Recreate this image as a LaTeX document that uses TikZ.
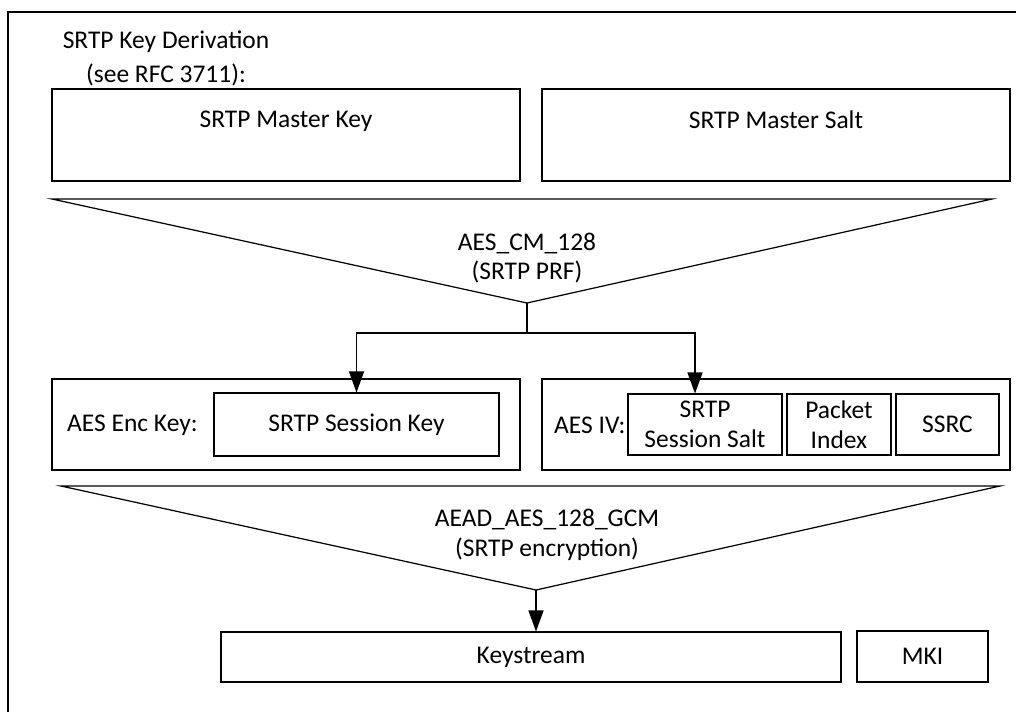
\documentclass[tikz,border=0pt]{standalone}
\usepackage{fontspec}
\setmainfont{Carlito}
\usetikzlibrary{arrows.meta}

\tikzset{
  box/.style={rectangle, draw, line width=0.6pt, inner sep=0pt, align=center},
  keybox/.style={box, minimum width=9.36cm, minimum height=1.84cm, text depth=0.62cm},
  groupbox/.style={box, minimum width=9.36cm, minimum height=1.82cm},
  partbox/.style={box, minimum height=1.22cm},
  arrow/.style={-{Triangle[length=0.42cm, width=0.3cm]}, line width=0.7pt},
  funnel/.style={draw, line width=0.7pt},
}

\begin{document}
\begin{tikzpicture}[font=\fontsize{14.5}{17}\selectfont]
  \useasboundingbox (0, 0) rectangle (20.32, -14.22);
  % Frame
  \draw[line width=1.2pt] (0.16, -14.6) -- (0.16, -0.24) -- (20.7, -0.24);
  % Header
  \node (title) [align=center] at (3.32, -1.17) {SRTP Key Derivation\\[2pt](see RFC 3711):};
  % Master key and salt
  \node (MK) [keybox] at (5.72, -2.70) {SRTP Master Key};
  \node (MS) [keybox] at (15.52, -2.70) {SRTP Master Salt};
  % PRF funnel
  \coordinate (PRFtip) at (10.54, -6.06);
  \draw[funnel] (1.04, -3.98) -- (19.84, -3.98) -- (PRFtip) -- cycle;
  \node (PRF) [align=center] at (10.54, -5.16) {AES\_CM\_128\\(SRTP PRF)};
  % Session keys
  \node (ENC) [groupbox] at (5.72, -8.49) {};
  \node (enclabel) [anchor=west] at (1.22, -8.50) {AES Enc Key:};
  \node (SK) [box, minimum width=5.70cm, minimum height=1.26cm] at (7.13, -8.49) {SRTP Session Key};
  \node (IV) [groupbox] at (15.52, -8.49) {};
  \node (ivlabel) [anchor=west] at (10.96, -8.50) {AES IV:};
  \node (SS) [partbox, minimum width=3.08cm] at (14.10, -8.49) {SRTP\\Session Salt};
  \node (PI) [partbox, minimum width=2.08cm] at (16.78, -8.49) {Packet\\Index};
  \node (SSRC) [partbox, minimum width=2.06cm] at (18.95, -8.49) {SSRC};
  % Arrows
  \coordinate (split) at (10.54, -6.66);
  \draw[funnel] (PRFtip) -- (split);
  \draw[arrow] (split) -| (SK.north);
  \draw[arrow] (split) -| ([xshift=-0.2cm]SS.north);
  % GCM funnel
  \coordinate (GCMtip) at (10.72, -11.80);
  \draw[funnel] (1.22, -9.72) -- (20.00, -9.72) -- (GCMtip) -- cycle;
  \node (GCM) [align=center] at (10.94, -10.70) {AEAD\_AES\_128\_GCM\\(SRTP encryption)};
  % Output
  \node (KS) [box, minimum width=12.40cm, minimum height=1.00cm] at (10.62, -13.14) {Keystream};
  \node (MKI) [box, minimum width=2.62cm, minimum height=1.02cm] at (18.45, -13.13) {MKI};
  \draw[arrow] (GCMtip) -- (GCMtip |- KS.north);
\end{tikzpicture}
\end{document}
